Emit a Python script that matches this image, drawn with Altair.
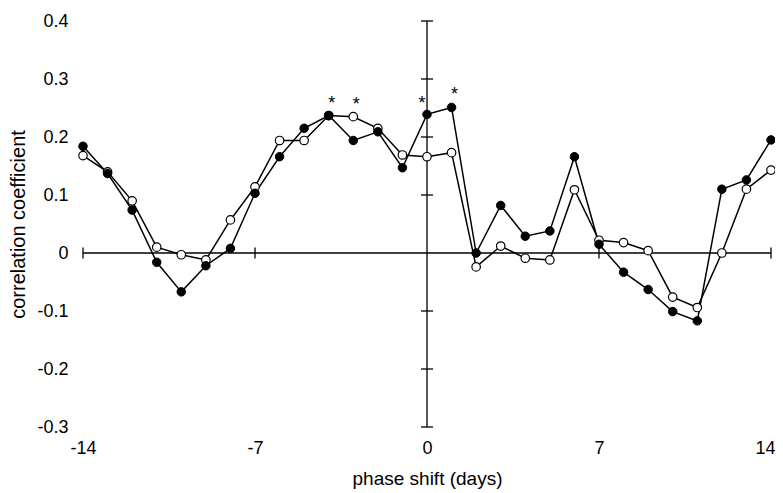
import altair as alt
import pandas as pd

# ---- data ----
days = list(range(-14, 15))
filled_r = [0.184, 0.137, 0.074, -0.016, -0.067, -0.022, 0.008, 0.103, 0.166, 0.215,
            0.237, 0.194, 0.209, 0.147, 0.239, 0.251, 0.000, 0.082, 0.029, 0.038,
            0.166, 0.015, -0.033, -0.063, -0.101, -0.117, 0.110, 0.126, 0.195]
open_r = [0.168, 0.140, 0.090, 0.010, -0.003, -0.012, 0.057, 0.114, 0.194, 0.194,
          0.237, 0.235, 0.215, 0.169, 0.166, 0.173, -0.024, 0.012, -0.009, -0.012,
          0.109, 0.022, 0.018, 0.004, -0.076, -0.094, 0.000, 0.110, 0.143]
star_days = [-4, -3, 1]
star_days_axis = [0]
x_ticks = [-14, -7, 0, 7, 14]
y_ticks = [-0.3, -0.2, -0.1, 0, 0.1, 0.2, 0.3, 0.4]

FONT = "Liberation Sans"

df = pd.DataFrame({
    "day": days * 2,
    "r": filled_r + open_r,
    "series": ["filled"] * len(days) + ["open"] * len(days),
})


def star_df(ds):
    return pd.DataFrame({
        "day": ds,
        "r": [max(filled_r[days.index(d)], open_r[days.index(d)]) for d in ds],
    })


xscale = alt.Scale(domain=[x_ticks[0], x_ticks[-1]], nice=False, zero=False)
yscale = alt.Scale(domain=[y_ticks[0], y_ticks[-1]], nice=False, zero=False)

last_x = x_ticks[-1]
x_axis = alt.Axis(
    values=x_ticks, title="phase shift (days)", domain=False, ticks=False, tickSize=0,
    grid=False, labelFlush=False,
    labelAlign={"condition": {"test": f"datum.value == {last_x}", "value": "right"},
                "value": "center"},
    labelOffset={"condition": {"test": f"datum.value == {last_x}", "value": 4},
                 "value": 0},
    labelPadding=12, labelFontSize=18, labelFont=FONT, labelColor="black",
    titleFontSize=19, titleFont=FONT, titleFontWeight="normal", titleColor="black",
    titlePadding=12, labelExpr="toString(datum.value)")
y_axis = alt.Axis(
    values=y_ticks, title="correlation coefficient", domain=False, ticks=False, tickSize=0,
    grid=False, labelFlush=False, labelAlign="right", labelBaseline="middle",
    labelPadding=15, labelFontSize=18, labelFont=FONT, labelColor="black",
    titleFontSize=20, titleFont=FONT, titleFontWeight="normal", titleColor="black",
    titlePadding=8, labelExpr="toString(datum.value)")


def X(field=None, datum=None):
    if datum is not None:
        return alt.X(datum=datum, type="quantitative", scale=xscale, axis=x_axis)
    return alt.X(field, type="quantitative", scale=xscale, axis=x_axis)


def Y(field=None, datum=None):
    if datum is not None:
        return alt.Y(datum=datum, type="quantitative", scale=yscale, axis=y_axis)
    return alt.Y(field, type="quantitative", scale=yscale, axis=y_axis)


one = pd.DataFrame({"a": [0]})

hline = alt.Chart(one).mark_rule(color="black", strokeWidth=1.3).encode(
    x=X(datum=x_ticks[0]), x2=alt.X2(datum=x_ticks[-1]), y=Y(datum=0))
vline = alt.Chart(one).mark_rule(color="black", strokeWidth=1.3).encode(
    y=Y(datum=y_ticks[0]), y2=alt.Y2(datum=y_ticks[-1]), x=X(datum=0))

xt = alt.Chart(pd.DataFrame({"day": [v for v in x_ticks if v != 0]})).mark_tick(
    orient="vertical", size=11, thickness=1.3, color="black", opacity=1).encode(
    x=X("day"), y=Y(datum=0))
yt = alt.Chart(pd.DataFrame({"r": [v for v in y_ticks if v != 0]})).mark_tick(
    orient="horizontal", size=12, thickness=1.3, color="black", opacity=1).encode(
    y=Y("r"), x=X(datum=0))

lines = alt.Chart(df).mark_line(color="black", strokeWidth=1.5).encode(
    x=X("day"), y=Y("r"), detail="series:N")

open_pts = alt.Chart(df).transform_filter(alt.datum.series == "open").mark_point(
    shape="circle", size=72, filled=True, fill="white", stroke="black",
    strokeWidth=1.2, opacity=1).encode(x=X("day"), y=Y("r"))
filled_pts = alt.Chart(df).transform_filter(alt.datum.series == "filled").mark_point(
    shape="circle", size=72, filled=True, fill="black", stroke="black",
    strokeWidth=1, opacity=1).encode(x=X("day"), y=Y("r"))

stars = alt.Chart(star_df(star_days)).mark_text(
    text="*", fontSize=18, font=FONT, color="black", dx=3, dy=-12, baseline="middle").encode(
    x=X("day"), y=Y("r"))
stars0 = alt.Chart(star_df(star_days_axis)).mark_text(
    text="*", fontSize=18, font=FONT, color="black", dx=-5, dy=-10, baseline="middle").encode(
    x=X("day"), y=Y("r"))

chart = alt.layer(
    lines, hline, vline, xt, yt, open_pts, filled_pts, stars, stars0
).properties(
    width=688, height=406,
    autosize=alt.AutoSizeParams(type="none"),
    padding={"left": 75, "top": 13, "right": 4, "bottom": 66},
).configure_view(stroke=None)

chart.save("out.html", embed_options={"renderer": "svg", "actions": False})
